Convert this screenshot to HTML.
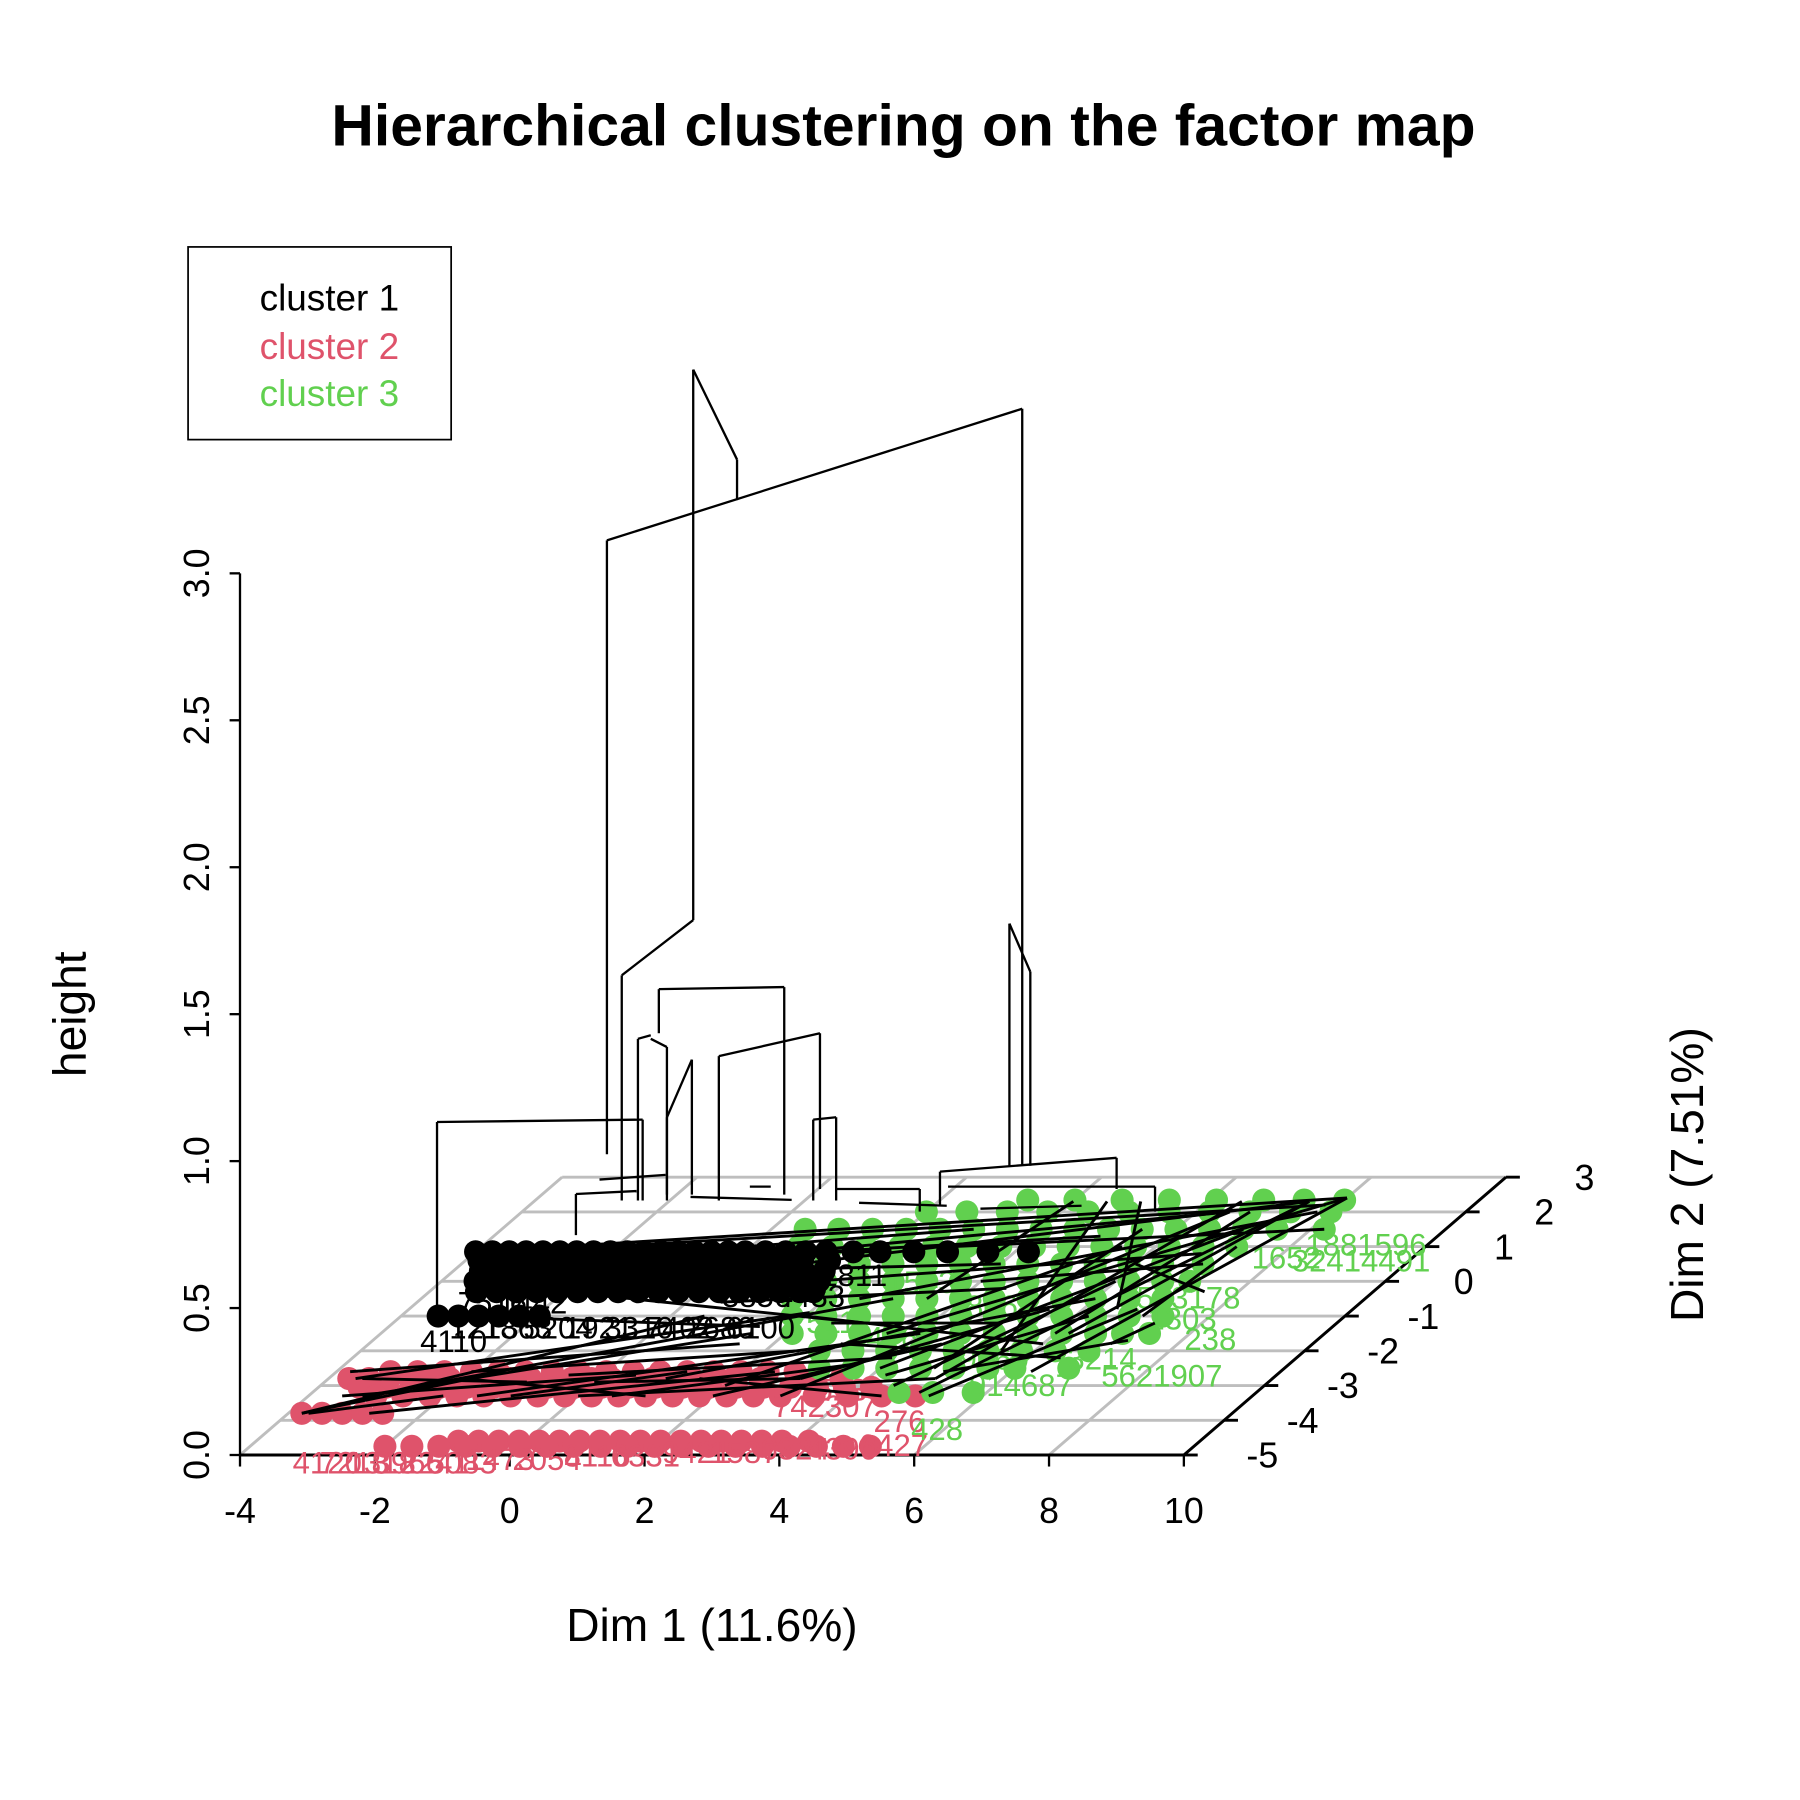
<!DOCTYPE html>
<html><head><meta charset="utf-8"><style>
html,body{margin:0;padding:0;background:#fff}
svg{display:block;font-family:"Liberation Sans",Arial,sans-serif}
</style></head><body>
<svg id="chart" width="1800" height="1800" viewBox="0 0 1560 1560" xmlns="http://www.w3.org/2000/svg">
<rect width="1560" height="1560" fill="#fff"/>
<text x="783" y="126" text-anchor="middle" font-size="51" font-weight="bold">Hierarchical clustering on the factor map</text>
<g>
<rect x="163" y="214" width="228" height="167" fill="none" stroke="#000" stroke-width="1.5"/>
<text x="225" y="269" font-size="32" fill="#000">cluster 1</text>
<text x="225" y="311" font-size="32" fill="#DF536B">cluster 2</text>
<text x="225" y="352" font-size="32" fill="#61D04F">cluster 3</text>
</g>
<text transform="translate(74,879) rotate(-90)" text-anchor="middle" font-size="40">height</text>
<text x="617" y="1422" text-anchor="middle" font-size="40">Dim 1 (11.6%)</text>
<text transform="translate(1476,1018) rotate(-90)" text-anchor="middle" font-size="40">Dim 2 (7.51%)</text>
<g id="grid"></g><g id="axes"></g><g id="pts"></g><g id="labs"></g><g id="links"></g><g id="dend"></g>
</svg>
<script>
const NS="http://www.w3.org/2000/svg";
const dim1Ticks=[-4,-2,0,2,4,6,8,10];
const dim2Ticks=[-5,-4,-3,-2,-1,0,1,2,3];
const heightTicks=["0.0","0.5","1.0","1.5","2.0","2.5","3.0"];
const heightVals=[0,0.5,1,1.5,2,2.5,3];
// cluster 1 (black) rows: Dim2 value and Dim1 values
const blackRowD2=[0.85,0.6,0.3,0.0,-0.3,-1.0];
const blackRowD1=[
 [-4,-3.75,-3.5,-3.25,-3,-2.75,-2.5,-2.25,-2,-1.75,-1.5,-1.25,-1,-0.75,-0.5,-0.25,0,0.3,0.6,0.9,1.2,1.6,2.0,2.5,3.0,3.6,4.2],
 [-3.8,-3.5,-3.2,-2.9,-2.6,-2.3,-2,-1.7,-1.4,-1.1,-0.8,-0.5,-0.2,0.1,0.4,0.7,1.0,1.4],
 [-3.6,-3.3,-3.0,-2.7,-2.4,-2.1,-1.8,-1.5,-1.2,-0.9,-0.6,-0.3,0,0.3,0.6,0.9,1.2,1.5],
 [-3.5,-3.2,-2.9,-2.6,-2.3,-2.0,-1.7,-1.4,-1.1,-0.8,-0.5,-0.2,0.1,0.4,0.7,1.0,1.3,1.6],
 [-3.3,-3.0,-2.7,-2.4,-2.1,-1.8,-1.5,-1.2,-0.9,-0.6,-0.3,0,0.3,0.6,0.9,1.2,1.5,1.7],
 [-3.45,-3.15,-2.85,-2.55,-2.25,-1.95]];
// cluster 2 (red)
const redRowD2=[-2.6,-2.8,-3.05,-3.3,-3.8,-4.6,-4.75];
const redRowD1=[
 [-3.2,-2.8,-2.4,-2.0,-1.6,-1.2,-0.8,-0.4,0,0.4,0.8,1.2,1.6,2.0,2.4,2.8],
 [-3.7,-3.4,-3.1,-2.8,-2.5,-2.2,-1.9,-1.6,-1.3,-1.0,-0.7,-0.4,-0.1,0.2,0.5,0.8,1.1,1.4,1.7,2.0,2.4,3.0,3.6],
 [-3.4,-3.0,-2.6,-2.2,-1.8,-1.4,-1.0,-0.6,-0.2,0.2,0.6,1.0,1.4,1.8,2.2,2.6,3.0,3.4,3.8,4.2],
 [-3.0,-2.6,-2.2,-1.8,-1.4,-1.0,-0.6,-0.2,0.2,0.6,1.0,1.4,1.8,2.2,2.6,3.0,3.5,4.0,4.5,5.0],
 [-3.8,-3.5,-3.2,-2.9,-2.6],
 [-1.0,-0.7,-0.4,-0.1,0.2,0.5,0.8,1.1,1.4,1.7,2.0,2.3,2.6,2.9,3.2,3.5,3.8,4.2],
 [-2.0,-1.6,-1.2,-0.8,-0.4,0,0.4,0.8,1.2,1.6,2.0,2.4,2.8,3.2,3.6,4.0,4.4,4.8,5.2]];
// cluster 3 (green)
const greenRowD2=[2.34,2.0,1.5,1.0,0.5,0,-0.5,-1.0,-1.5,-2.0,-2.5,-3.2];
const greenRowD1=[
 [3.3,4.0,4.7,5.4,6.1,6.8,7.4,8.0],
 [2.0,2.6,3.2,3.8,4.4,5.0,5.6,6.2,6.8,7.4,8.0],
 [0.5,1.0,1.5,2.0,2.5,3.0,3.5,4.0,4.5,5.0,5.5,6.0,6.5,7.0,7.5,8.2],
 [0.7,1.2,1.7,2.2,2.7,3.2,3.7,4.2,4.7,5.2,5.7,6.2,6.7,7.2],
 [0.9,1.4,1.9,2.4,2.9,3.4,3.9,4.4,4.9,5.4,5.9,6.4,7.0],
 [1.2,1.7,2.2,2.7,3.2,3.7,4.2,4.7,5.2,5.7,6.2,6.7,7.1],
 [1.5,2.0,2.5,3.0,3.5,4.0,4.5,5.0,5.5,6.0,6.5,7.0],
 [1.8,2.3,2.8,3.3,3.8,4.3,4.8,5.3,5.8,6.3,6.8,7.3],
 [2.1,2.6,3.1,3.6,4.1,4.6,5.1,5.6,6.1,6.6,7.0,7.4],
 [2.8,3.3,3.8,4.3,4.8,5.3,5.8,6.3,6.8],
 [3.1,3.6,4.1,4.6,5.1,5.6,6.0,6.8],
 [4.7,5.2,5.8]];
// low-level links on the floor [d1a,d2a,d1b,d2b]
const links=[[-3.8,-3.8,0.5,-1.0],[-3.6,-2.8,2.0,-0.9],[-3.2,-3.3,1.5,-1.5],[-2.5,-3.0,3.0,-0.5],[-1.5,-3.3,4.0,-1.5],
 [0,-3.3,5.0,-2.8],[1,-2.8,6,-0.5],[2,-3.0,5.5,1.0],[3,-3.3,6.5,2.0],[4,-2.5,7.0,1.5],[5,-3.2,7.5,2.3],[5.5,-2.0,4.5,2.3],
 [6.0,-1.5,6.8,2.0],[6.5,-0.8,5.0,2.3],[7.0,-1.0,7.2,1.0],[3.5,-1.5,8.0,2.4],[2.5,-0.5,7.8,2.0],[1.0,0.5,7.5,2.3],
 [-4.0,0.85,8.0,2.4],[-3.0,0.9,7.8,2.2],[-2,0.3,6.5,2.0],[4.2,-2.7,6.2,-1.0],[5,-2.6,7.2,-1.7],[2.5,-1.2,5.0,-1.2],
 [6.0,0.5,7.5,-0.3],[4,0,7,0.5],[-3,-1,1.5,-1.3],[-2,-0.3,3,-1.2],[-3.5,-2.8,-1,-2.9],[-2,-2.8,1,-3.3],[0,-2.9,3,-2.8],
 [-3.7,-3.8,-2,-3.3],[1.5,-2.8,4.5,-3.3],[-1,0.85,3,1.5],[0,0.3,4,0.5],[-4,0.85,2,0.85],
 [-3.8,-3.8,-1.5,-2.6],[-3.5,-3.3,0.5,-2.7],[-2.8,-3.8,2.5,-2.6],[-1,-3.3,1.2,-2.6],[0.5,-3.3,3.5,-2.4],[2,-3.3,4.5,-1.8],
 [3,-2.8,5.5,-0.8],[4.5,-3.0,6.0,0.0],[5.2,-3.3,6.8,-0.8],[6.3,-2.6,8.0,2.4],[7.0,-1.8,7.3,-1.2],[3.0,-1.8,6.5,-2.2],
 [2.0,-1.0,6.0,-1.8],[1.5,0.0,6.8,0.8],[3.0,1.0,8.2,1.5],[-1,0.6,5,1.3],[0.5,-0.6,4.5,-0.2],[5.5,1.5,4.8,-2.5],
 [6.5,2.3,5.0,-2.8],[7.5,2.3,6.2,-1.5],[4.0,2.3,3.5,-0.5],[-3.8,-2.6,1.5,-1.8],[-2,-2.6,2.5,-2.0],[-0.5,-2.7,4,-2.2]];
// dendrogram segments at Dim2=1.5 [d1a,ha,d1b,hb]
const dendro=[[-1.16,2.925,-1.16,1.052],[-1.16,2.925,-0.51,2.619],[-0.51,2.619,-0.51,2.481],[-2.44,2.344,3.72,2.792],
 [-2.44,2.344,-2.44,0.255],[3.72,2.792,3.72,0.216],[3.53,1.040,3.84,0.876],[3.53,1.040,3.53,0.216],[3.84,0.876,3.84,0.216],
 [-2.22,0.864,-1.16,1.052],[-2.22,0.864,-2.22,0.098],[-1.67,0.817,0.19,0.824],[-1.67,0.817,-1.67,0.667],[0.19,0.824,0.19,0.118],
 [-1.98,0.648,-1.79,0.660],[-1.98,0.648,-1.98,0.098],[-1.79,0.648,-1.55,0.620],[-1.55,0.620,-1.55,0.118],
 [-1.55,0.381,-1.18,0.577],[-1.18,0.577,-1.18,0.118],[-1.55,0.381,-1.55,0.098],
 [-0.78,0.589,0.72,0.667],[-0.78,0.589,-0.78,0.098],[0.72,0.667,0.72,0.137],[0.62,0.373,0.96,0.381],[0.62,0.373,0.62,0.098],[0.96,0.381,0.96,0.098],
 [-4.96,0.365,-1.91,0.373],[-4.96,0.365,-4.96,-0.314],[-1.91,0.373,-1.91,0.098],
 [2.50,0.196,5.12,0.243],[2.50,0.196,2.50,0.079],[5.12,0.243,5.12,0.137],
 [-2.55,0.169,-1.57,0.185],[-0.32,0.145,-0.01,0.145],[0.96,0.137,2.20,0.137],[2.62,0.145,5.69,0.145],[2.20,0.137,2.20,0.06],[5.69,0.145,5.69,0.06],
 [-2.9,0.12,-2.0,0.13],[-2.9,0.12,-2.9,-0.02],[-1.2,0.11,0.3,0.10],[1.3,0.09,2.6,0.08],[3.1,0.07,4.6,0.08]];
const greenLabD1=[8.17,8.25,6.58,7.1,8.0,7.4,5.5,5.6,2.1,7.6,3.0,5.0,4.2,6.6,2.6];
const greenLabD2=[1.08,0.61,-0.45,-1.05,-1.64,-2.7,-4.24,-2.97,-1.15,0.7,-1.6,-2.2,-0.7,-2.2,0.0];
const greenLabTxt=["1881596","32414491","563178","1303","238","5621907","428","914687","511","1652","4416","9060","8067","3214","1543"];
const redLabD1=[-3.1,-2.7,-2.3,-1.9,-1.5,-1.1,-0.6,0.1,0.8,1.5,2.2,2.9,3.6,4.3,5.0,3.05,4.8,3.4];
const redLabD2=[-5.2,-5.2,-5.2,-5.2,-5.2,-5.2,-5.1,-5.1,-5.0,-5.0,-4.9,-4.9,-4.8,-4.8,-4.7,-3.57,-4.0,-3.1];
const redLabTxt=["4120","7218","1318","3966","2241","5083","1473","2054","8116","6331","9421","1587","6324","4396","6427","742307","276","5236"];
const blackLabD1=[-3.1,-2.6,-2.0,-1.4,-0.8,-0.2,0.4,1.0,-3.4,-2.8,0.4,1.2,-3.3,1.5];
const blackLabD2=[-1.31,-1.31,-1.31,-1.31,-1.31,-1.31,-1.31,-1.31,-0.6,-0.6,-0.4,-0.4,-1.7,0.2];
const blackLabTxt=["1213","1863","5204","1921","3310","7402","2680","6100","7516","1442","3856","4433","4110","1811"];

// projection
const X0=208,Y0=1261,SX=58.43,DX2=34.9,DY2=30.1,SH=254.7;
function px(d1,d2){return X0+(d1+4)*SX+(d2+5)*DX2;}
function py(d2,h){return Y0-(d2+5)*DY2-h*SH;}
function hy(h){return Y0-h*SH;}
function dy(h){return py(1.5,h);}
function mk(tag,attrs,parent){const e=document.createElementNS(NS,tag);for(const k in attrs)e.setAttribute(k,attrs[k]);parent.appendChild(e);return e;}
const G=id=>document.getElementById(id);

const grid=G('grid');
dim2Ticks.forEach(v=>{
 const l=mk('line',{x1:px(-4,v),y1:py(v,0),x2:px(10,v),y2:py(v,0),stroke:'#BEBEBE','stroke-width':2.5},grid);
 
 
});
dim1Ticks.forEach(v=>{
 const l=mk('line',{x1:px(v,-5),y1:py(-5,0),x2:px(v,3),y2:py(3,0),stroke:'#BEBEBE','stroke-width':2.5},grid);
 
 
});
const ax=G('axes');
let a=mk('line',{x1:X0,y1:hy(0),x2:X0,y2:hy(3),stroke:'#000','stroke-width':2},ax);


heightVals.forEach((v,i)=>{
 mk('line',{x1:X0-9,y1:hy(v),x2:X0,y2:hy(v),stroke:'#000','stroke-width':2},ax);
 const t=mk('text',{transform:`translate(181,${hy(v)}) rotate(-90)`,'text-anchor':'middle','font-size':31},ax);
 t.textContent=heightTicks[i];
 
 
});
a=mk('line',{x1:px(-4,-5),y1:py(-5,0),x2:px(10,-5),y2:py(-5,0),stroke:'#000','stroke-width':2.5},ax);


dim1Ticks.forEach(v=>{
 mk('line',{x1:px(v,-5),y1:Y0,x2:px(v,-5),y2:Y0+10,stroke:'#000','stroke-width':2},ax);
 const t=mk('text',{x:px(v,-5),y:1320,'text-anchor':'middle','font-size':31},ax);
 t.textContent=String(v);
 
 
});
a=mk('line',{x1:px(10,-5),y1:py(-5,0),x2:px(10,3),y2:py(3,0),stroke:'#000','stroke-width':2.5},ax);


dim2Ticks.forEach(v=>{
 const x=px(10,v),y=py(v,0);
 mk('line',{x1:x,y1:y,x2:x+12,y2:y,stroke:'#000','stroke-width':2.5},ax);
 const t=mk('text',{x:x+68,y:y+11,'text-anchor':'middle','font-size':31},ax);
 t.textContent=String(v);
 
 
});
const pts=G('pts');
function drawRows(R2,R1,col,name){
 R2.forEach((d2,j)=>{
  R1[j].forEach(d1=>{
   const c=mk('circle',{cx:px(d1,d2),cy:py(d2,0),r:10,fill:col},pts);
   
   
  });
 });
}
drawRows(redRowD2,redRowD1,'#DF536B','cluster-2-point');
drawRows(greenRowD2,greenRowD1,'#61D04F','cluster-3-point');
drawRows(blackRowD2,blackRowD1,'#000','cluster-1-point');
const labs=G('labs');
function drawLabs(D1,D2,T,col,name){
 D1.forEach((d,i)=>{
  const t=mk('text',{x:px(d,D2[i]),y:py(D2[i],0)+10,'font-size':27,fill:col},labs);
  t.textContent=T[i];
  
  
 });
}
drawLabs(redLabD1,redLabD2,redLabTxt,'#DF536B','cluster-2-label');
drawLabs(greenLabD1,greenLabD2,greenLabTxt,'#61D04F','cluster-3-label');
drawLabs(blackLabD1,blackLabD2,blackLabTxt,'#000','cluster-1-label');
const lk=G('links');
links.forEach(s=>{
 const l=mk('line',{x1:px(s[0],s[1]),y1:py(s[1],0),x2:px(s[2],s[3]),y2:py(s[3],0),stroke:'#000','stroke-width':2.5},lk);
 
 
});
const dg=G('dend');
dendro.forEach(s=>{
 const l=mk('line',{x1:px(s[0],1.5),y1:dy(s[1]),x2:px(s[2],1.5),y2:dy(s[3]),stroke:'#000','stroke-width':2},dg);
 
 
});
</script>
</body></html>
